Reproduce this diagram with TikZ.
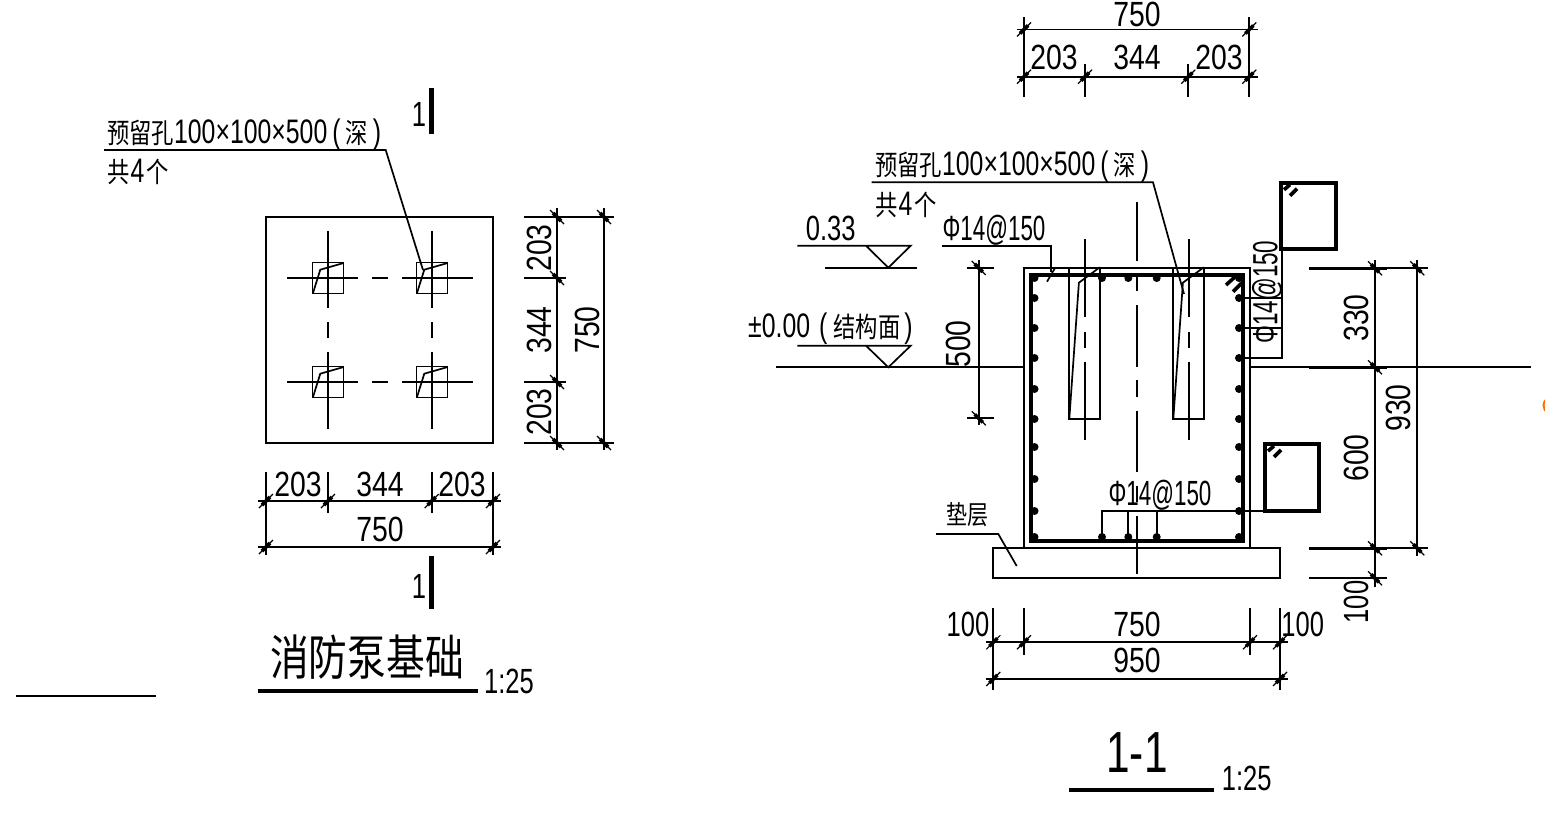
\documentclass[tikz,border=0pt]{standalone}
\usepackage{fontspec}
\setmainfont[FakeStretch=0.81]{Liberation Sans}
\newfontfamily\narrowfont[FakeStretch=0.73]{Liberation Sans}
\newfontfamily\barfont[FakeStretch=0.64]{Liberation Sans}
\newfontfamily\cjk[FakeStretch=0.8, Scale=0.82]{Noto Sans CJK SC}
\tikzset{
	x=1pt, y=-1pt,
	line/.style={line width=1.7pt},
	heavy/.style={line width=4pt},
	bar/.style={line width=5pt},
	dimtext/.style={font=\fontsize{35}{35}\selectfont, inner sep=0pt},
	narrowtext/.style={font=\fontsize{35}{35}\selectfont\narrowfont, inner sep=0pt},
	bartext/.style={font=\fontsize{35}{35}\selectfont\barfont, inner sep=0pt},
	leadtext/.style={font=\fontsize{34}{34}\selectfont\narrowfont, inner sep=0pt, anchor=base west},
	htick/.pic={\draw[line width=1.2pt] (-7,7) -- (7,-7); \draw[line width=3.6pt] (-4,4) -- (4,-4);},
	vtick/.pic={\draw[line width=1.2pt] (-7,-7) -- (7,7); \draw[line width=3.6pt] (-4,-4) -- (4,4);},
}
\newcommand{\leadword}{\cjk 预留孔\narrowfont 100×100×500\hspace{5pt}(\hspace{5pt}\cjk 深\narrowfont\hspace{5pt})}
\newcommand{\countword}{\cjk 共\narrowfont\hspace{1pt}4\hspace{2pt}\cjk 个}
\begin{document}
\begin{tikzpicture}
	\useasboundingbox (0,0) rectangle (1545,836);
	% plan
	\draw[line] (266,217) rectangle (493,443);
	\foreach \x/\y/\a/\b/\c/\d in {328/278/41/30/47/30, 432/278/30/41/47/30, 328/382/41/30/30/47, 432/382/30/41/30/47} {
		\draw[line] (\x-15.5,\y-15.5) rectangle (\x+15.5,\y+15.5);
		\draw[line] (\x-\a,\y) -- (\x+\b,\y);
		\draw[line] (\x,\y-\c) -- (\x,\y+\d);
		\draw[line] (\x-15,\y+15) -- (\x-7.7,\y-8.3) -- (\x+15.7,\y-15);
	}
	\foreach \y in {278,382} \draw[line] (372,\y) -- (388,\y);
	\foreach \x in {328,432} \draw[line] (\x,322) -- (\x,338);
	\draw[line] (104,150) -- (385.7,150) -- (423,270);
	\node[leadtext] (planhole) at (107,143.5) {\leadword};
	\node[leadtext] (plancount) at (107,182) {\countword};
	% section marks
	\draw[bar] (431.3,88) -- (431.3,134);
	\draw[bar] (431.3,556) -- (431.3,609);
	\node[narrowtext] (markup) at (419,114) {1};
	\node[narrowtext] (markdown) at (419,586) {1};
	% plan dimensions below
	\draw[line] (258,501) -- (501,501);
	\draw[line] (258,547) -- (501,547);
	\draw[line] (266,472) -- (266,555);
	\draw[line] (328,472) -- (328,513);
	\draw[line] (431.7,472) -- (431.7,513);
	\draw[line] (493,472) -- (493,555);
	\foreach \x in {266,328,431.7,493} \pic at (\x,501) {htick};
	\foreach \x in {266,493} \pic at (\x,547) {htick};
	\node[dimtext] (pa) at (298,484) {203};
	\node[dimtext] (pb) at (380,484) {344};
	\node[dimtext] (pc) at (462,484) {203};
	\node[dimtext] (pd) at (380,529) {750};
	% plan dimensions right
	\draw[line] (524,217) -- (614,217);
	\draw[line] (524,278) -- (566,278);
	\draw[line] (524,382) -- (566,382);
	\draw[line] (524,443) -- (614,443);
	\draw[line] (557,208) -- (557,450);
	\draw[line] (604,208) -- (604,450);
	\foreach \y in {217,278,382,443} \pic at (557,\y) {vtick};
	\foreach \y in {217,443} \pic at (604,\y) {vtick};
	\node[dimtext, rotate=90] (qa) at (539,248) {203};
	\node[dimtext, rotate=90] (qb) at (539,330) {344};
	\node[dimtext, rotate=90] (qc) at (539,412) {203};
	\node[dimtext, rotate=90] (qd) at (587,330) {750};
	% titles
	\node[inner sep=0pt, font=\fontsize{59}{59}\selectfont\cjk] (plantitle) at (367,657) {消防泵基础};
	\draw[heavy] (258,691) -- (478,691);
	\node[narrowtext] (planscale) at (509,681) {1:25};
	\draw[line] (16,696) -- (156,696);
	\node[inner sep=0pt, font=\fontsize{58}{58}\selectfont\narrowfont] (secttitle) at (1137,753) {1-1};
	\draw[heavy] (1069,789.7) -- (1214,789.7);
	\node[narrowtext] (sectscale) at (1246.7,778) {1:25};
	% section top dimensions
	\draw[line] (1017,29.5) -- (1258,29.5);
	\draw[line] (1017,76.7) -- (1258,76.7);
	\draw[line] (1024,17) -- (1024,97);
	\draw[line] (1085,64) -- (1085,97);
	\draw[line] (1188.3,64) -- (1188.3,97);
	\draw[line] (1249.3,17) -- (1249.3,97);
	\foreach \x in {1024,1085,1188.3,1249.3} \pic at (\x,76.7) {htick};
	\foreach \x in {1024,1249.3} \pic at (\x,29.5) {htick};
	\node[dimtext] (ta) at (1137,14.5) {750};
	\node[dimtext] (tb) at (1054,57) {203};
	\node[dimtext] (tc) at (1137,57) {344};
	\node[dimtext] (td) at (1219,57) {203};
	% section leader
	\draw[line] (871.7,182.3) -- (1153,182.3) -- (1184,294);
	\node[leadtext] (secthole) at (875,175) {\leadword};
	\node[leadtext] (sectcount) at (875,215) {\countword};
	% levels
	\draw[line] (797.3,245.7) -- (910.7,245.7) -- (888.3,267.7) -- (866,245.7);
	\draw[line] (825,267.7) -- (917.3,267.7);
	\node[narrowtext] (levela) at (830.7,228) {0.33};
	\draw[line] (797.3,345.7) -- (910.7,345.7) -- (888.3,367.3) -- (866,345.7);
	\draw[line] (776,367.3) -- (1024,367.3);
	\draw[line] (1250,367.3) -- (1531,367.3);
	\node[leadtext] (levelb) at (748,337) {±0.00\hspace{9pt}(\hspace{6pt}\cjk 结构面\narrowfont\hspace{4pt})};
	% wall and slab
	\draw[line] (1024,548.3) -- (1024,268.3) -- (1250,268.3) -- (1250,548.3);
	\draw[line] (993.3,548.3) rectangle (1280,578.3);
	\draw[heavy] (1031,275) rectangle (1243.3,540.7);
	\foreach \y in {278,298,328,358,389,419,447,479,511,537} {
		\fill (1034.5,\y) circle (4);
		\fill (1239,\y) circle (4);
	}
	\foreach \x in {1102,1128.3,1156.7} {
		\fill (\x,278) circle (4);
		\fill (\x,537) circle (4);
	}
	\draw[line width=3.6pt] (1226,285) -- (1236,276);
	\draw[line width=3.6pt] (1233,291.7) -- (1242.7,282);
	% centre lines
	\foreach \a/\b in {202/261, 276.7/290.7, 305/366.7, 380/396.7, 410.7/471.7, 486/502, 516/574}
		\draw[line] (1137,\a) -- (1137,\b);
	\foreach \x/\w in {1085/1069.3, 1188.7/1173.3} {
		\draw[line] (\w,268.3) rectangle (\w+30.5,419);
		\draw[line] (\w,419) -- (\w+9.6,282.7) -- (\w+30.5,267.3);
		\foreach \a/\b in {239/317.3, 331.7/348.3, 361.7/440}
			\draw[line] (\x,\a) -- (\x,\b);
	}
	% bar notes
	\draw[line] (942.3,245.7) -- (1050.7,245.7) -- (1050.7,272);
	\draw[line] (1055,268) -- (1047,281.7);
	\node[bartext] (barleft) at (994,230.7) {Φ14@150};
	\draw[line] (1101.7,537) -- (1101.7,510.7) -- (1265,510.7);
	\draw[line] (1128.3,510.7) -- (1128.3,537);
	\draw[line] (1156.7,510.7) -- (1156.7,537);
	\node[bartext] (barbottom) at (1160,495) {Φ14@150};
	\draw[line] (1239,298.3) -- (1282.3,298.3);
	\draw[line] (1239,328.3) -- (1282.3,328.3);
	\draw[line] (1239,357.7) -- (1282.3,357.7) -- (1282.3,249);
	\node[bartext, rotate=90] (barright) at (1267,292) {Φ14@150};
	\draw[line] (936,534) -- (998.3,534) -- (1016.7,566);
	\node[inner sep=0pt, font=\fontsize{32}{32}\selectfont\cjk] (cushion) at (967,515) {垫层};
	% detail boxes
	\draw[heavy] (1281,182.7) rectangle (1335.7,249.3);
	\draw[heavy] (1265,444) rectangle (1319.3,511);
	\foreach \x/\y in {1281/182.7, 1265/444} {
		\draw[line width=3.6pt] (\x+3,\y+7) -- (\x+9,\y+2);
		\draw[line width=3.6pt] (\x+9,\y+13) -- (\x+16,\y+6);
	}
	% section dimensions bottom
	\draw[line] (986,642.3) -- (1288.3,642.3);
	\draw[line] (986,679) -- (1288.3,679);
	\draw[line] (993.3,608.3) -- (993.3,690);
	\draw[line] (1024,608.3) -- (1024,655);
	\draw[line] (1250,608.3) -- (1250,655);
	\draw[line] (1280,608.3) -- (1280,690);
	\foreach \x in {993.3,1024,1250,1280} \pic at (\x,642.3) {htick};
	\foreach \x in {993.3,1280} \pic at (\x,679) {htick};
	\node[narrowtext] (ba) at (968,624) {100};
	\node[dimtext] (bb) at (1137,624) {750};
	\node[narrowtext] (bc) at (1302.7,624) {100};
	\node[dimtext] (bd) at (1137,660) {950};
	% section dimensions right
	\draw[line] (1375,260) -- (1375,586.7);
	\draw[line] (1417.3,260) -- (1417.3,556);
	\draw[line width=2.4pt] (1309.3,268.3) -- (1387,268.3);
	\draw[line] (1387,268.3) -- (1428,268.3);
	\draw[line width=2.4pt] (1309.3,367.3) -- (1387,367.3);
	\draw[line width=2.4pt] (1309.3,548.3) -- (1387,548.3);
	\draw[line] (1387,548.3) -- (1428,548.3);
	\draw[line] (1309.3,578.3) -- (1387,578.3);
	\foreach \y in {268.3,367.3,548.3,578.3} \pic at (1375,\y) {vtick};
	\foreach \y in {268.3,548.3} \pic at (1417.3,\y) {vtick};
	\node[dimtext, rotate=90] (ra) at (1356,318) {330};
	\node[dimtext, rotate=90] (rb) at (1398,408) {930};
	\node[dimtext, rotate=90] (rc) at (1356,458) {600};
	\node[narrowtext, rotate=90] (rd) at (1356,602) {100};
	% 500 dimension
	\draw[line] (978.7,260) -- (978.7,425);
	\draw[line] (966.7,268) -- (994,268);
	\draw[line] (966.7,418.3) -- (994,418.3);
	\foreach \y in {268,418.3} \pic at (978.7,\y) {vtick};
	\node[dimtext, rotate=90] (sa) at (958,344) {500};
	% edge mark
	\draw[line width=2pt, orange!85!red] (1545,400) -- (1543.5,405) -- (1545,411);
\end{tikzpicture}
\end{document}
